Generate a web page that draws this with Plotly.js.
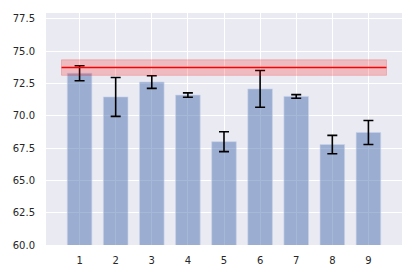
<!DOCTYPE html>
<html>
<head>
<meta charset="utf-8">
<script src="https://cdn.plot.ly/plotly-3.0.1.min.js"></script>
<style>html,body{margin:0;padding:0;background:#fff;}#chart{width:415px;height:277px;}</style>
</head>
<body>
<div id="chart"></div>
<script>
var categories = [1, 2, 3, 4, 5, 6, 7, 8, 9];
var means = [73.28, 71.45, 72.6, 71.59, 67.99, 72.07, 71.49, 67.77, 68.7];
var errors = [0.58, 1.5, 0.49, 0.17, 0.77, 1.42, 0.14, 0.71, 0.93];
var refMean = 73.72;
var refErr = 0.6;
var yTicks = [60, 62.5, 65, 67.5, 70, 72.5, 75, 77.5];
var yTickText = ["60.0", "62.5", "65.0", "67.5", "70.0", "72.5", "75.0", "77.5"];

var x0 = categories[0] - 0.5, x1 = categories[categories.length - 1] + 0.5;

var bars = {
  type: 'bar', x: categories, y: means, width: 0.68,
  marker: {color: 'rgba(76,114,176,0.5)', line: {color: 'rgba(200,210,235,0.6)', width: 1}},
  error_y: {type: 'data', array: errors, visible: true, color: '#000', thickness: 1.6, width: 5},
  hoverinfo: 'none'
};
var refLine = {
  type: 'scatter', mode: 'lines', x: [x0, x1], y: [refMean, refMean],
  line: {color: '#ff0000', width: 1.6}, hoverinfo: 'none'
};

var layout = {
  width: 415, height: 277,
  margin: {l: 46, r: 13, t: 13, b: 32},
  paper_bgcolor: '#ffffff', plot_bgcolor: '#EAEAF2',
  showlegend: false, bargap: 0,
  font: {family: 'DejaVu Sans', size: 10, color: '#262626'},
  xaxis: {
    range: [0.07, 9.93], tickvals: categories, ticktext: categories.map(String),
    showgrid: true, gridcolor: '#ffffff', gridwidth: 1, zeroline: false,
    ticks: '', ticklabelstandoff: 8, showline: false
  },
  yaxis: {
    range: [60, 77.94], tickvals: yTicks, ticktext: yTickText,
    showgrid: true, gridcolor: '#ffffff', gridwidth: 1, zeroline: false,
    ticks: '', ticklabelstandoff: 10, showline: false
  },
  shapes: [{
    type: 'rect', xref: 'x', yref: 'y', layer: 'above',
    x0: x0, x1: x1, y0: refMean - refErr, y1: refMean + refErr,
    fillcolor: 'rgba(255,0,0,0.2)', line: {color: 'rgba(255,0,0,0.2)', width: 1}
  }]
};

Plotly.newPlot('chart', [bars, refLine], layout, {displayModeBar: false, staticPlot: true});
</script>
</body>
</html>
